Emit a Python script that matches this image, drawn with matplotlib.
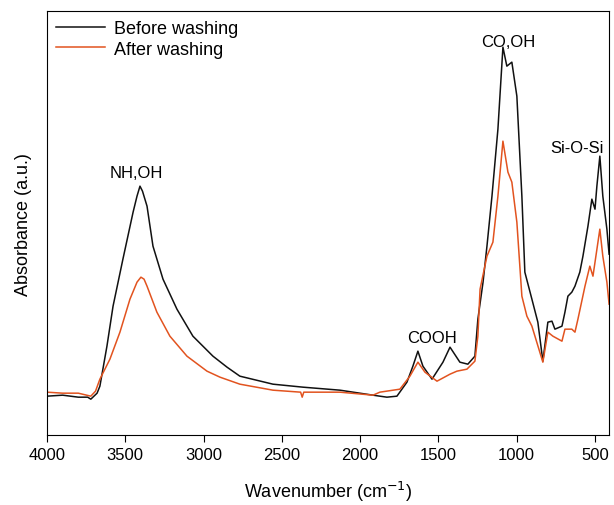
import matplotlib
matplotlib.use("Agg")
import matplotlib.pyplot as plt

plt.rcParams['font.family'] = ['Liberation Sans', 'DejaVu Sans']

# wavenumber (cm-1) and absorbance (a.u.)
wn_before = [4000, 3900, 3800, 3740, 3720, 3700, 3680, 3662, 3617, 3578, 3515, 3450,
             3425, 3406, 3390, 3361, 3323, 3259, 3170, 3068, 2940, 2850, 2768, 2557,
             2365, 2129, 1918, 1874, 1829, 1765, 1701, 1663, 1631, 1599, 1541, 1471,
             1426, 1363, 1312, 1267, 1248, 1215, 1190, 1158, 1120, 1088, 1063, 1031,
             999, 967, 948, 903, 865, 833, 801, 775, 756, 711, 692, 673, 648, 628,
             597, 577, 545, 520, 500, 488, 469, 450, 424, 410]
ab_before = [0.39, 0.40, 0.38, 0.38, 0.36, 0.39, 0.42, 0.49, 0.89, 1.29, 1.76, 2.23,
             2.39, 2.49, 2.44, 2.29, 1.89, 1.56, 1.26, 0.99, 0.79, 0.68, 0.59, 0.51,
             0.48, 0.45, 0.40, 0.39, 0.38, 0.39, 0.53, 0.69, 0.84, 0.69, 0.56, 0.73,
             0.88, 0.73, 0.71, 0.79, 1.16, 1.53, 1.89, 2.39, 3.06, 3.88, 3.69, 3.73,
             3.39, 2.39, 1.63, 1.36, 1.13, 0.74, 1.13, 1.14, 1.06, 1.09, 1.23, 1.39,
             1.43, 1.49, 1.63, 1.79, 2.09, 2.36, 2.26, 2.49, 2.79, 2.39, 2.06, 1.81]

wn_after = [4000, 3900, 3800, 3720, 3690, 3662, 3598, 3534, 3470, 3425, 3400, 3380,
            3361, 3298, 3215, 3106, 2978, 2895, 2768, 2557, 2380, 2370, 2360, 2129,
            1918, 1874, 1746, 1682, 1631, 1586, 1509, 1426, 1382, 1318, 1267, 1248,
            1234, 1190, 1152, 1120, 1088, 1056, 1031, 999, 967, 935, 903, 833, 801,
            769, 711, 692, 648, 628, 609, 564, 533, 513, 469, 450, 424, 410]
ab_after = [0.43, 0.42, 0.42, 0.39, 0.44, 0.56, 0.76, 1.03, 1.36, 1.53, 1.58, 1.56,
            1.49, 1.23, 0.99, 0.79, 0.64, 0.58, 0.51, 0.45, 0.43, 0.38, 0.43, 0.43,
            0.40, 0.43, 0.46, 0.59, 0.73, 0.63, 0.54, 0.61, 0.64, 0.66, 0.74, 0.99,
            1.46, 1.79, 1.93, 2.39, 2.94, 2.63, 2.53, 2.13, 1.39, 1.19, 1.09, 0.73, 1.03,
            0.99, 0.94, 1.06, 1.06, 1.03, 1.16, 1.49, 1.69, 1.59, 2.06, 1.79, 1.53, 1.31]

labels = ["NH,OH", "COOH", "CO,OH", "Si-O-Si"]
label_wn = [3430, 1541, 1056, 615]
label_ab = [2.63, 0.98, 3.94, 2.88]

fig = plt.figure(figsize=(6.14, 5.06), dpi=100)
ax = fig.add_axes([0.0765, 0.138, 0.9155, 0.838])

ax.plot(wn_before, ab_before, color='#111111', lw=1.1, label='Before washing')
ax.plot(wn_after, ab_after, color='#E2531F', lw=1.1, label='After washing')

for t, x, y in zip(labels, label_wn, label_ab):
    ax.text(x, y, t, ha='center', va='center', fontsize=12)

ax.set_xlim(4000, 410)
ax.set_ylim(0, 4.24)
ax.set_xticks([4000, 3500, 3000, 2500, 2000, 1500, 1000, 500])
ax.set_yticks([])
ax.tick_params(axis='x', direction='out', length=5, labelsize=12)
ax.set_xlabel('Wavenumber (cm$^{-1}$)', fontsize=13, labelpad=12)
ax.set_ylabel('Absorbance (a.u.)', fontsize=13, labelpad=11)

ax.legend(loc='upper left', frameon=False, fontsize=13, handlelength=2.7,
          handletextpad=0.5, borderaxespad=0.1, labelspacing=0.2)

fig.savefig('out.png')
